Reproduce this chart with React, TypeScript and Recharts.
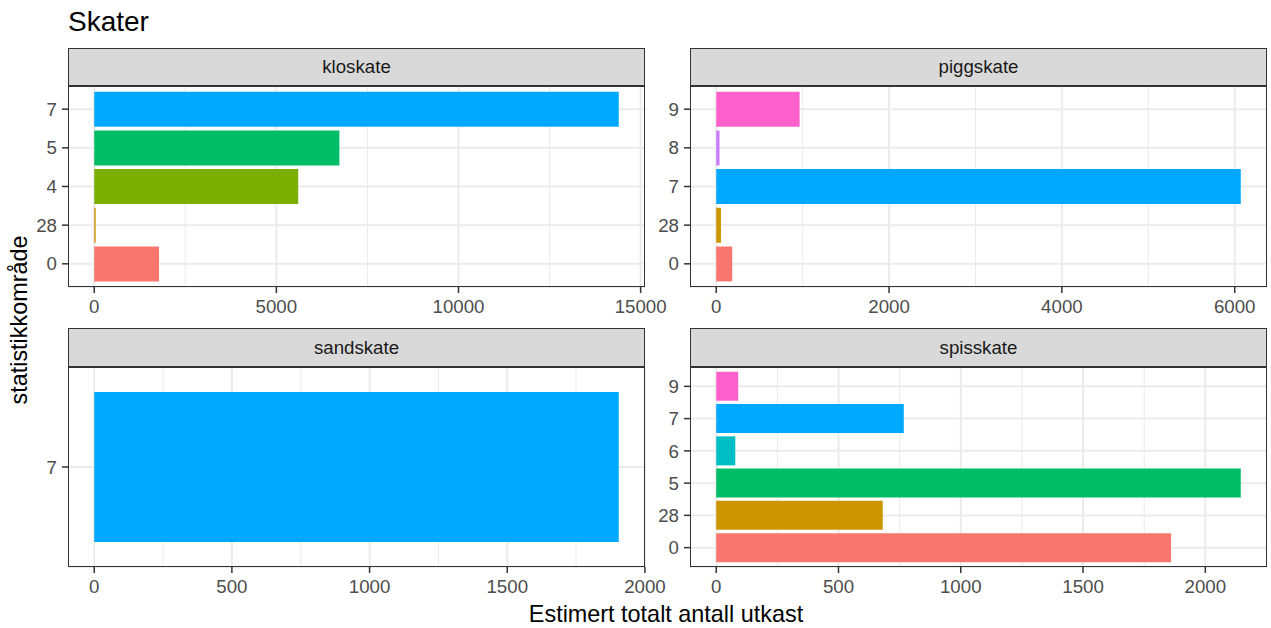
import { BarChart, Bar, XAxis, YAxis, CartesianGrid, Cell } from 'recharts'

// factor levels of statistikkområde and the ggplot hue palette for them
const levels = ['0', '28', '4', '5', '6', '7', '8', '9']
const levelColors = ['#F8766D', '#CD9600', '#7CAE00', '#00BE67', '#00BFC4', '#00A9FF', '#C77CFF', '#FF61CC']

const kloCats = ['0', '28', '4', '5', '7']
const kloVals = [1780, 40, 5600, 6730, 14400]
const kloTicks = [0, 5000, 10000, 15000]
const kloMinor = [2500, 7500, 12500]

const piggCats = ['0', '28', '7', '8', '9']
const piggVals = [185, 55, 6070, 38, 965]
const piggTicks = [0, 2000, 4000, 6000]
const piggMinor = [1000, 3000, 5000]

const sandCats = ['7']
const sandVals = [1905]
const sandTicks = [0, 500, 1000, 1500, 2000]
const sandMinor = [250, 750, 1250, 1750]

const spissCats = ['0', '28', '5', '6', '7', '9']
const spissVals = [1860, 681, 2145, 78, 767, 90]
const spissTicks = [0, 500, 1000, 1500, 2000]
const spissMinor = [250, 750, 1250, 1750, 2250]

const FONT = '"Liberation Sans", Arial, sans-serif'
const TICK_FONT = 18.7
const YW = 60
const XH = 40
const RP = 34

interface PanelProps {
  name: string
  cats: string[]
  vals: number[]
  ticks: number[]
  minor: number[]
  left: number
  top: number
  width: number
  height: number
  stripTop: number
}

function Panel({ name, cats, vals, ticks, minor, left, top, width, height, stripTop }: PanelProps) {
  const data = cats.map((c, i) => ({ cat: c, v: vals[i] }))
  const max = Math.max(...vals)
  const domain: [number, number] = [-0.05 * max, 1.05 * max]
  const unit = height / (cats.length + 0.2)
  const pad = unit * 0.1

  // vertical grid lines at the given breaks, placed through the axis scale when it is exposed
  const gridGen = (vals: number[]) => (p: any) => {
    const s = p?.xAxis?.scale
    if (typeof s === 'function') return vals.map((v) => s(v))
    if (s && typeof s.map === 'function') return vals.map((v) => s.map(v))
    const off = p?.offset ?? { left: YW, width }
    return vals.map((v) => off.left + ((v - domain[0]) / (domain[1] - domain[0])) * off.width)
  }

  return (
    <>
      <div
        style={{
          position: 'absolute', left, top: stripTop, width, height: top - stripTop,
          background: '#D9D9D9', border: '1.5px solid #333333', boxSizing: 'border-box',
          display: 'flex', alignItems: 'center', justifyContent: 'center',
          fontSize: TICK_FONT, color: '#1A1A1A', fontFamily: FONT,
        }}
      >
        {name}
      </div>
      <div style={{ position: 'absolute', left: left - YW, top }}>
        <BarChart
          width={YW + width + RP}
          height={height + XH}
          data={data}
          layout="vertical"
          margin={{ top: 0, right: RP, left: 0, bottom: 0 }}
          barCategoryGap="5%"
        >
          <CartesianGrid stroke="#EBEBEB" strokeWidth={1} horizontal={false} verticalCoordinatesGenerator={gridGen(minor)} />
          <CartesianGrid stroke="#EBEBEB" strokeWidth={2} verticalCoordinatesGenerator={gridGen(ticks)} />
          <XAxis
            type="number"
            dataKey="v"
            domain={domain}
            allowDataOverflow
            ticks={ticks}
            interval={0}
            height={XH}
            axisLine={false}
            tickSize={6}
            tickMargin={7}
            tickLine={{ stroke: '#333333', strokeWidth: 1.5 }}
            tick={{ fill: '#4D4D4D', fontSize: TICK_FONT, fontFamily: FONT }}
          />
          <YAxis
            type="category"
            dataKey="cat"
            reversed
            width={YW}
            padding={{ top: pad, bottom: pad }}
            axisLine={false}
            tickSize={6}
            tickMargin={5}
            interval={0}
            tickLine={{ stroke: '#333333', strokeWidth: 1.5 }}
            tick={{ fill: '#4D4D4D', fontSize: TICK_FONT, fontFamily: FONT }}
          />
          <Bar dataKey="v" isAnimationActive={false}>
            {data.map((d) => (
              <Cell key={d.cat} fill={levelColors[levels.indexOf(d.cat)]} />
            ))}
          </Bar>
        </BarChart>
      </div>
      <div
        style={{
          position: 'absolute', left, top, width, height,
          border: '1.5px solid #333333', boxSizing: 'border-box', pointerEvents: 'none',
        }}
      />
    </>
  )
}

export default function App() {
  const colL = 68
  const colR = 690
  const w = 577
  return (
    <div style={{ position: 'absolute', left: 0, top: 0, width: 1271, height: 628, background: '#fff', fontFamily: FONT }}>
      <Panel name="kloskate" cats={kloCats} vals={kloVals} ticks={kloTicks} minor={kloMinor}
        left={colL} top={86} width={w} height={201} stripTop={48} />
      <Panel name="piggskate" cats={piggCats} vals={piggVals} ticks={piggTicks} minor={piggMinor}
        left={colR} top={86} width={w} height={201} stripTop={48} />
      <Panel name="sandskate" cats={sandCats} vals={sandVals} ticks={sandTicks} minor={sandMinor}
        left={colL} top={367} width={w} height={200} stripTop={328} />
      <Panel name="spisskate" cats={spissCats} vals={spissVals} ticks={spissTicks} minor={spissMinor}
        left={colR} top={367} width={w} height={200} stripTop={328} />
      <svg width={1271} height={628} style={{ position: 'absolute', left: 0, top: 0, pointerEvents: 'none' }}>
        <text x={68} y={31} fontSize={28} fill="#000" fontFamily={FONT}>Skater</text>
        <text x={666} y={622} fontSize={23.4} fill="#000" textAnchor="middle" fontFamily={FONT}>
          Estimert totalt antall utkast
        </text>
        <text x={27} y={320} fontSize={23.4} fill="#000" textAnchor="middle" fontFamily={FONT}
          transform="rotate(-90 27 320)">
          statistikkområde
        </text>
      </svg>
    </div>
  )
}
